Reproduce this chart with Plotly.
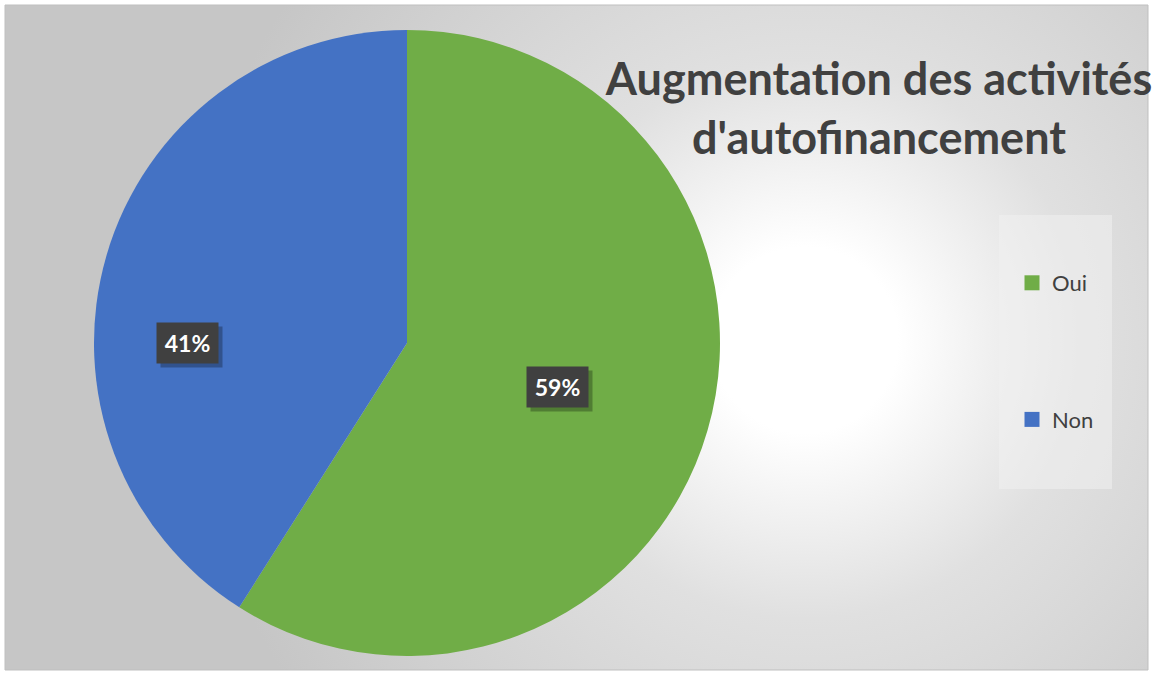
import base64
import math

import plotly.graph_objects as go

# data
labels = ["Oui", "Non"]
values = [59, 41]
colors = ["#70AD47", "#4472C4"]
title_text = "Augmentation des activités<br>d'autofinancement"

W, H = 1153, 675

# pie geometry (pixels)
cx, cy, R = 407, 343, 313

# label placement: (radius fraction, position along slice 0..1)
label_place = {"Oui": (0.50, 0.50), "Non": (0.70, 0.39)}


def px_x(x):
    return x / W


def px_y(y):
    return 1 - y / H


# radial grey background
svg = f"""<svg xmlns='http://www.w3.org/2000/svg' width='1143' height='665' viewBox='0 0 1143 665' preserveAspectRatio='none'>
<defs><radialGradient id='g' gradientUnits='userSpaceOnUse' cx='800' cy='335' r='620'>
<stop offset='0' stop-color='#ffffff'/>
<stop offset='0.15' stop-color='#ffffff'/>
<stop offset='0.45' stop-color='#e0e0e0'/>
<stop offset='1' stop-color='#c6c6c6'/>
</radialGradient></defs>
<rect width='1143' height='665' fill='url(#g)'/></svg>"""
bg_src = "data:image/svg+xml;base64," + base64.b64encode(svg.encode()).decode()

fig = go.Figure()

fig.add_trace(go.Pie(
    labels=labels,
    values=values,
    sort=False,
    direction="clockwise",
    rotation=0,
    marker=dict(colors=colors, line=dict(width=0)),
    textinfo="none",
    hoverinfo="label+percent",
    showlegend=False,
    domain=dict(x=[px_x(cx - R), px_x(cx + R)], y=[px_y(cy + R), px_y(cy - R)]),
))

# legend entries
for lab, col in zip(labels, colors):
    fig.add_trace(go.Scatter(
        x=[None], y=[None], mode="markers", name=lab, legendgroup=lab,
        marker=dict(symbol="square", size=15, color=col),
    ))

# percentage labels with dark boxes
total = sum(values)
start = 0
for lab, v in zip(labels, values):
    rf, pos = label_place[lab]
    ang = 2 * math.pi * (start + v * pos) / total
    start += v
    x = cx + rf * R * math.sin(ang)
    y = cy - rf * R * math.cos(ang)
    txt = f"{round(100 * v / total)}%"
    common = dict(
        x=px_x(x), y=px_y(y), xref="paper", yref="paper", showarrow=False,
        xanchor="center", yanchor="middle",
        width=49, height=28, borderpad=6,
    )
    # soft shadow box
    fig.add_annotation(text="&nbsp;", bgcolor="rgba(0,0,0,0.28)",
                       xshift=4, yshift=-4,
                       font=dict(family="Lato", size=23),
                       **common)
    fig.add_annotation(text=f"<b>{txt}</b>", bgcolor="#404040",
                       font=dict(family="Lato", size=23, color="white"),
                       **common)

fig.update_layout(
    width=W, height=H,
    margin=dict(l=0, r=0, t=0, b=0),
    paper_bgcolor="white",
    plot_bgcolor="rgba(0,0,0,0)",
    xaxis=dict(visible=False),
    yaxis=dict(visible=False),
    title=dict(
        text=f"<b>{title_text}</b>",
        x=px_x(879), xanchor="center",
        y=px_y(95), yanchor="top",
        font=dict(family="Lato", size=45, color="#404040"),
    ),
    legend=dict(
        x=px_x(1012), xanchor="left",
        y=px_y(262), yanchor="top",
        bgcolor="rgba(0,0,0,0)",
        tracegroupgap=105,
        font=dict(family="Lato", size=22, color="#404040"),
    ),
    images=[dict(
        source=bg_src, xref="paper", yref="paper",
        x=px_x(5), y=px_y(5), sizex=1143 / W, sizey=665 / H,
        xanchor="left", yanchor="top", sizing="stretch", layer="below",
    )],
    shapes=[
        dict(type="rect", xref="paper", yref="paper",
             x0=px_x(5), x1=px_x(1148), y0=px_y(670), y1=px_y(5),
             line=dict(color="#bfbfbf", width=1), layer="below"),
        dict(type="rect", xref="paper", yref="paper",
             x0=px_x(999), x1=px_x(1112), y0=px_y(489), y1=px_y(215),
             fillcolor="rgba(240,240,240,0.55)", line=dict(width=0), layer="below"),
    ],
)

fig.write_html("out.html", config={"displayModeBar": False},
               post_script="document.body.style.margin='0';")
